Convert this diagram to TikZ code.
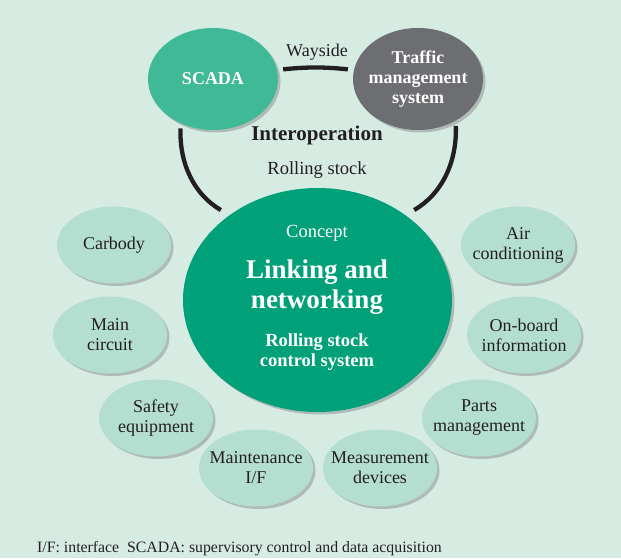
\documentclass[tikz,border=0pt]{standalone}
\usepackage{fontspec}
\setmainfont{Liberation Serif}
\usepackage{tikz}
\usetikzlibrary{shapes.geometric,shadows}

\definecolor{bgcol}{RGB}{214,236,227}
\definecolor{partcol}{RGB}{180,222,208}
\definecolor{maincol}{RGB}{0,160,120}
\definecolor{scadacol}{RGB}{64,185,150}
\definecolor{tmscol}{RGB}{109,110,113}
\definecolor{inkcol}{RGB}{35,31,32}

\tikzset{
    shade off/.style={drop shadow={shadow xshift=2.5pt, shadow yshift=-2.5pt, opacity=0.45}},
    part/.style={ellipse, fill=partcol, minimum width=114pt, minimum height=77pt, inner xsep=-14pt, inner ysep=0pt,
        align=center, text=inkcol, font=\fontsize{18}{20}\selectfont, shade off},
    system/.style={ellipse, minimum width=130pt, minimum height=102pt, inner xsep=-14pt, inner ysep=0pt,
        align=center, text=white, font=\fontsize{18}{20}\selectfont\bfseries, shade off},
    link/.style={line width=4.3pt, inkcol},
}

\begin{document}
\begin{tikzpicture}[x=1pt, y=1pt]
            \fill[bgcol] (0,0) rectangle (621,558);
            \useasboundingbox (0,0) rectangle (621,558);
            %
            \node[system, fill=scadacol] (scada) at (213,479) {SCADA};
            \node[system, fill=tmscol] (tms) at (418,479) {Traffic\\management\\system};
            %
            \node[ellipse, fill=maincol, minimum width=269pt, minimum height=224pt, shade off] (main) at (317.5,258) {};
            \node[text=white, font=\fontsize{18.5}{20}\selectfont] (concept) at (317,325) {Concept};
            \node[text=white, align=center, font=\fontsize{27}{30}\selectfont\bfseries] (linking) at (317,271) {Linking and\\networking};
            \node[text=white, align=center, font=\fontsize{18.5}{20}\selectfont\bfseries] (rscs) at (317,206) {Rolling stock\\control system};
            %
            \node[text=inkcol, font=\fontsize{18}{20}\selectfont] (wayside) at (317,506) {Wayside};
            \node[text=inkcol, font=\fontsize{21}{24}\selectfont\bfseries] (interop) at (317,423) {Interoperation};
            \node[text=inkcol, font=\fontsize{18.5}{20}\selectfont] (rolling) at (317,388) {Rolling stock};
            %
            \draw[link, shorten <=6pt, shorten >=6pt] (scada.8) to[bend left=6] (tms.172);
            \draw[link, shorten <=5pt, shorten >=10pt] (scada.234) to[out=268, in=150] (main.136);
            \draw[link, shorten <=5pt, shorten >=10pt] (tms.312) to[out=272, in=30] (main.44);
            %
            \node[part] (carbody) at (114,313) {Carbody};
            \node[part] (circuit) at (110,223) {Main\\circuit};
            \node[part] (safety) at (156,140) {Safety\\equipment};
            \node[part] (maint) at (256,90) {Maintenance\\I/F};
            \node[part] (measure) at (380,90) {Measurement\\devices};
            \node[part] (parts) at (479,140) {Parts\\management};
            \node[part] (onboard) at (524,223) {On-board\\information};
            \node[part] (aircon) at (518,313) {Air\\conditioning};
            %
            \node[anchor=base west, inner sep=0pt, text=inkcol, font=\fontsize{15.8}{18}\selectfont] (note) at (37,6)
                {I/F: interface\hspace{0.5em}SCADA: supervisory control and data acquisition};
        \end{tikzpicture}
\end{document}
